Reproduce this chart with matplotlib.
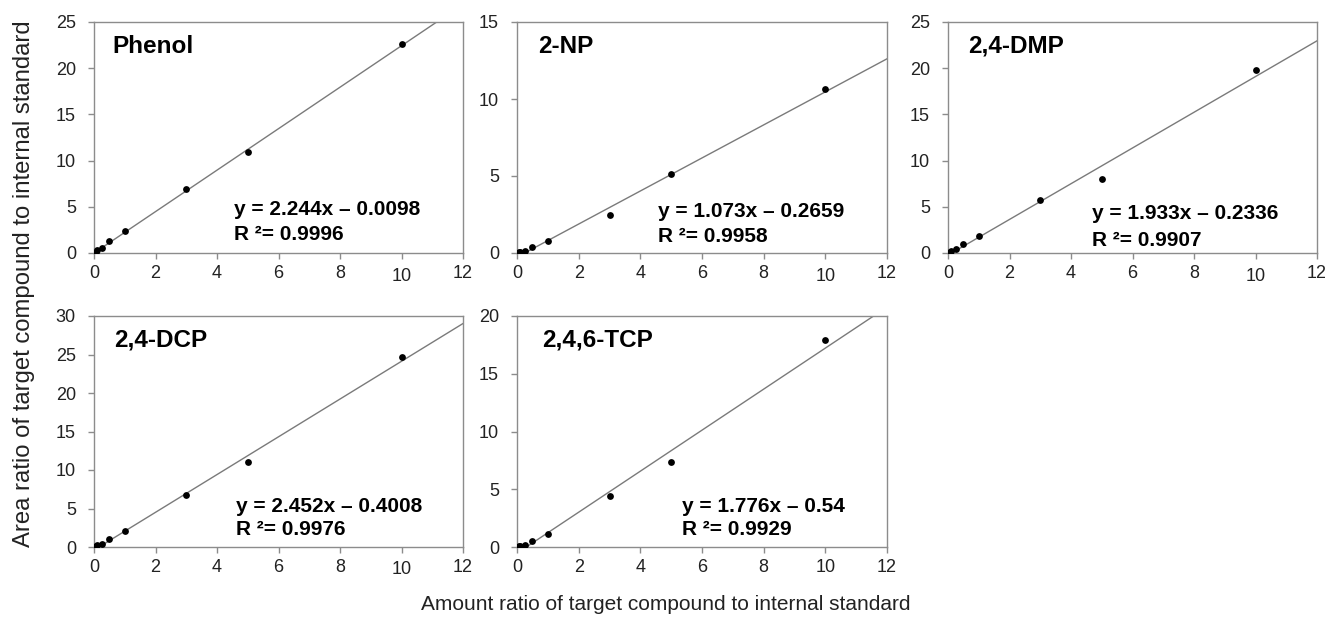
import matplotlib
matplotlib.use("Agg")
import matplotlib.pyplot as plt
import matplotlib.transforms as mtransforms
import numpy as np

plt.rcParams['font.family'] = ['Liberation Sans', 'DejaVu Sans']

# ---- data ----
compounds = ["Phenol", "2-NP", "2,4-DMP", "2,4-DCP", "2,4,6-TCP"]
amount_ratio = [0.05, 0.1, 0.25, 0.5, 1, 3, 5, 10]
area_phenol = [0.15, 0.3, 0.55, 1.25, 2.4, 6.9, 10.9, 22.6]
area_2np = [0.04, 0.08, 0.15, 0.38, 0.75, 2.45, 5.1, 10.65]
area_24dmp = [0.12, 0.25, 0.45, 1.0, 1.85, 5.75, 8.0, 19.8]
area_24dcp = [0.1, 0.2, 0.4, 1.05, 2.1, 6.7, 11.1, 24.7]
area_246tcp = [0.05, 0.1, 0.2, 0.55, 1.15, 4.4, 7.4, 17.9]
slopes = [2.244, 1.073, 1.933, 2.452, 1.776]
intercepts = [-0.0098, -0.2659, -0.2336, -0.4008, -0.54]
eq_texts = ["y = 2.244x \u2013 0.0098", "y = 1.073x \u2013 0.2659", "y = 1.933x \u2013 0.2336",
            "y = 2.452x \u2013 0.4008", "y = 1.776x \u2013 0.54"]
r2_texts = ["R \u00b2= 0.9996", "R \u00b2= 0.9958", "R \u00b2= 0.9907",
            "R \u00b2= 0.9976", "R \u00b2= 0.9929"]
y_max = [25, 15, 25, 30, 20]
y_step = [5, 5, 5, 5, 5]
x_ticks = [0, 2, 4, 6, 8, 10, 12]
series = [area_phenol, area_2np, area_24dmp, area_24dcp, area_246tcp]

W, H = 1325, 619
fig = plt.figure(figsize=(W / 100, H / 100), dpi=100)

# axes boxes in pixels: left, right, top, bottom
boxes = [(94, 463, 22, 253), (517, 887, 22, 253), (948, 1317, 22, 253),
         (94, 463, 316, 547), (517, 887, 316, 547)]
title_pos = [(0.049, 0.895), (0.057, 0.895), (0.054, 0.895), (0.054, 0.895), (0.068, 0.895)]
eq_pos = [(0.38, 0.19, 0.078), (0.38, 0.18, 0.07), (0.39, 0.17, 0.056),
          (0.385, 0.177, 0.074), (0.446, 0.177, 0.074)]
ten_shift = [3, 3, 3, 2, 0]  # px: the "10" labels sit slightly lower in the original

spine_col = "#8c8c8c"
axes = []
for i in range(5):
    l, r, t, b = boxes[i]
    ax = fig.add_axes([l / W, 1 - b / H, (r - l) / W, (b - t) / H])
    axes.append(ax)
    x = np.array(amount_ratio)
    ax.scatter(x, series[i], s=24, color="black", zorder=3, linewidths=0)
    xl = np.array([0, 12])
    ax.plot(xl, slopes[i] * xl + intercepts[i], color="#7a7a7a", lw=1.0, zorder=2)
    ax.set_xlim(0, 12)
    ax.set_ylim(0, y_max[i])
    ax.set_xticks(x_ticks)
    ax.set_yticks(np.arange(0, y_max[i] + 0.1, y_step[i]))
    for s in ax.spines.values():
        s.set_color(spine_col)
        s.set_linewidth(1.0)
    ax.tick_params(axis='both', direction='out', length=4, width=1, color=spine_col,
                   labelsize=13, labelcolor="#222222")
    ax.tick_params(axis='y', pad=9)
    ax.tick_params(axis='x', pad=5)
    tx, ty = title_pos[i]
    ax.text(tx, ty, compounds[i], transform=ax.transAxes, fontsize=17.5,
            fontweight='bold', ha='left', va='center')
    ex, ey1, ey2 = eq_pos[i]
    ax.text(ex, ey1, eq_texts[i], transform=ax.transAxes, fontsize=15,
            fontweight='bold', ha='left', va='center')
    ax.text(ex, ey2, r2_texts[i], transform=ax.transAxes, fontsize=15,
            fontweight='bold', ha='left', va='center')

fig.text(24 / W, 1 - 284 / H, "Area ratio of target compound to internal standard",
         rotation=90, ha='center', va='center', fontsize=17.2, color="#222222")
fig.text(666 / W, 1 - 605 / H, "Amount ratio of target compound to internal standard",
         ha='center', va='center', fontsize=15, color="#222222")

fig.canvas.draw()
for i, ax in enumerate(axes):
    if ten_shift[i]:
        lab = ax.xaxis.get_major_ticks()[x_ticks.index(10)].label1
        off = mtransforms.ScaledTranslation(0, -ten_shift[i] / 100, fig.dpi_scale_trans)
        lab.set_transform(lab.get_transform() + off)

fig.savefig("out.png", dpi=100, facecolor="white")
